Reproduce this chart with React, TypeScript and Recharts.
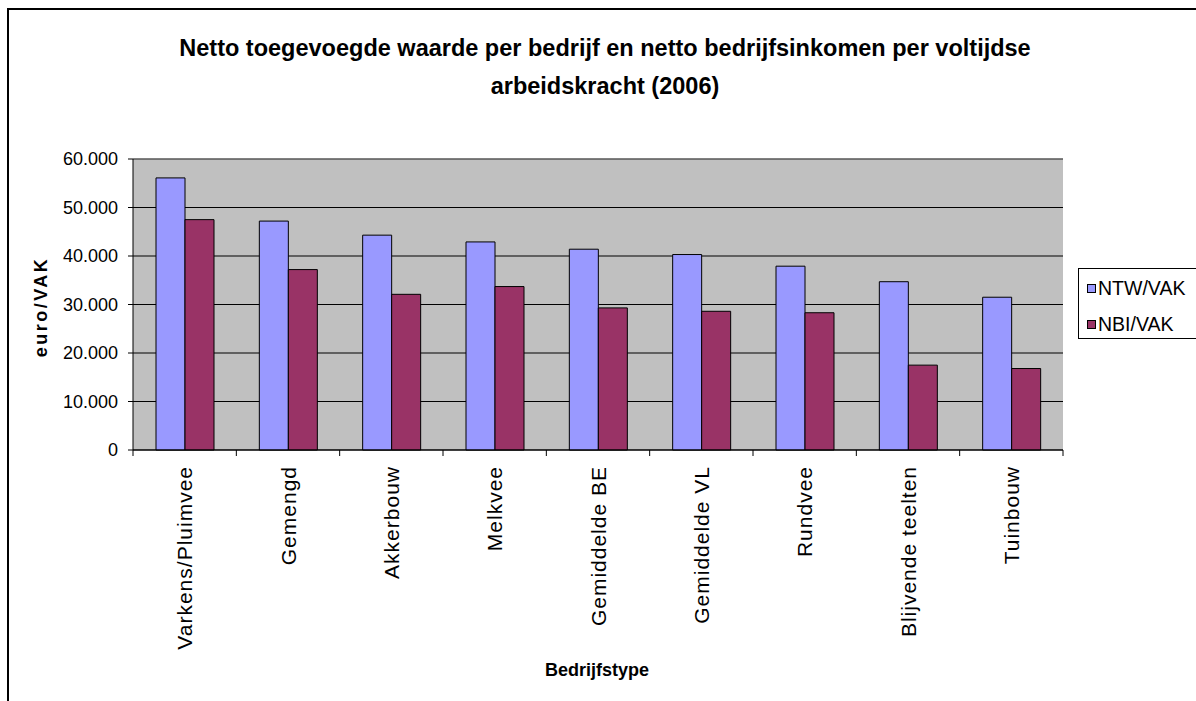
import React from "react";
import {
  BarChart,
  Bar,
  XAxis,
  YAxis,
  CartesianGrid,
  ReferenceLine,
} from "recharts";

const categories = [
  "Varkens/Pluimvee",
  "Gemengd",
  "Akkerbouw",
  "Melkvee",
  "Gemiddelde BE",
  "Gemiddelde VL",
  "Rundvee",
  "Blijvende teelten",
  "Tuinbouw",
];
const ntwVak = [56100, 47200, 44300, 42900, 41400, 40300, 37900, 34700, 31500];
const nbiVak = [47500, 37200, 32100, 33700, 29300, 28600, 28300, 17500, 16800];
const yTicks = [0, 10000, 20000, 30000, 40000, 50000, 60000];

const series = [
  { key: "ntw", name: "NTW/VAK", color: "#9999FF" },
  { key: "nbi", name: "NBI/VAK", color: "#993366" },
];

const data = categories.map((name, i) => ({
  name,
  ntw: ntwVak[i],
  nbi: nbiVak[i],
}));

const W = 1196;
const H = 701;
const PLOT_LEFT = 133;
const PLOT_RIGHT = 1063;
const PLOT_TOP = 159;
const PLOT_BOTTOM = 450;
const BAND = (PLOT_RIGHT - PLOT_LEFT) / categories.length;
const FONT = '"Liberation Sans", Arial, sans-serif';

const fmt = (v: number) =>
  String(v).replace(/\B(?=(\d{3})+(?!\d))/g, ".");

const CategoryTick = (props: any) => {
  const { x, payload, index } = props;
  const half = BAND / 2;
  return (
    <g>
      <line x1={x - half} x2={x - half} y1={PLOT_BOTTOM} y2={PLOT_BOTTOM + 6} stroke="#000" />
      {index === categories.length - 1 && (
        <line x1={x + half} x2={x + half} y1={PLOT_BOTTOM} y2={PLOT_BOTTOM + 6} stroke="#000" />
      )}
      <text
        transform={`translate(${x},${PLOT_BOTTOM + 16}) rotate(-90)`}
        textAnchor="end"
        dy="0.36em"
        fontSize={21}
        letterSpacing={1}
        fontFamily={FONT}
        fill="#000"
      >
        {payload.value}
      </text>
    </g>
  );
};

export default function App() {
  return (
    <div style={{ position: "relative", width: W, height: H, overflow: "hidden", background: "#fff", fontFamily: FONT }}>
      <style>{`body{margin:0;overflow:hidden}`}</style>
      <div
        style={{
          position: "absolute",
          left: 7,
          top: 8,
          width: W,
          height: H,
          borderTop: "2px solid #000",
          borderLeft: "2px solid #000",
        }}
      />
      <div
        style={{
          position: "absolute",
          left: 0,
          width: 1210,
          top: 29,
          textAlign: "center",
          fontWeight: "bold",
          fontSize: 23.5,
          lineHeight: "38px",
          color: "#000",
        }}
      >
        Netto toegevoegde waarde per bedrijf en netto bedrijfsinkomen per voltijdse
        <br />
        arbeidskracht (2006)
      </div>
      <div
        style={{
          position: "absolute",
          left: 41,
          top: 307,
          transform: "translate(-50%, -50%) rotate(-90deg)",
          fontWeight: "bold",
          fontSize: 18,
          letterSpacing: 2.5,
          whiteSpace: "nowrap",
        }}
      >
        euro/VAK
      </div>
      <div
        style={{
          position: "absolute",
          left: 597,
          top: 670,
          transform: "translate(-50%, -50%)",
          fontWeight: "bold",
          fontSize: 18,
          whiteSpace: "nowrap",
        }}
      >
        Bedrijfstype
      </div>
      <div
        style={{
          position: "absolute",
          left: 1078,
          top: 268,
          width: 130,
          height: 71,
          border: "1px solid #000",
          boxSizing: "border-box",
        }}
      >
        {series.map((s, i) => (
          <div
            key={s.key}
            style={{
              position: "absolute",
              left: 8,
              top: 8 + i * 36,
              height: 22,
              display: "flex",
              alignItems: "center",
              fontSize: 19.5,
              whiteSpace: "nowrap",
            }}
          >
            <span
              style={{
                display: "inline-block",
                width: 7,
                height: 7,
                background: s.color,
                border: "1px solid #000",
                marginRight: 2,
              }}
            />
            {s.name}
          </div>
        ))}
      </div>
      <div style={{ position: "absolute", left: 0, top: 0 }}>
        <BarChart
          width={W}
          height={H}
          data={data}
          margin={{ top: PLOT_TOP, right: W - PLOT_RIGHT, bottom: 0, left: 0 }}
          barGap={0}
          barSize={29}
        >
          <CartesianGrid
            vertical={false}
            stroke="#000"
            fill="#C0C0C0"
            fillOpacity={1}
          />
          <XAxis
            dataKey="name"
            height={H - PLOT_BOTTOM}
            interval={0}
            axisLine={{ stroke: "#000" }}
            tickLine={false}
            tick={<CategoryTick />}
          />
          <YAxis
            width={PLOT_LEFT}
            domain={[0, 60000]}
            ticks={yTicks}
            interval={0}
            tickFormatter={fmt}
            axisLine={{ stroke: "#000" }}
            tickLine={{ stroke: "#000" }}
            tickSize={5}
            tickMargin={10}
            tick={{ fontSize: 18, fill: "#000", fontFamily: FONT }}
          />
          <YAxis
            yAxisId="frame"
            orientation="right"
            width={0}
            domain={[0, 60000]}
            tick={false}
            tickLine={false}
            axisLine={{ stroke: "#808080" }}
          />
          <ReferenceLine y={60000} stroke="#808080" />
          {series.map((s) => (
            <Bar
              key={s.key}
              dataKey={s.key}
              name={s.name}
              fill={s.color}
              stroke="#000"
              strokeWidth={1}
              isAnimationActive={false}
            />
          ))}
        </BarChart>
      </div>
    </div>
  );
}
